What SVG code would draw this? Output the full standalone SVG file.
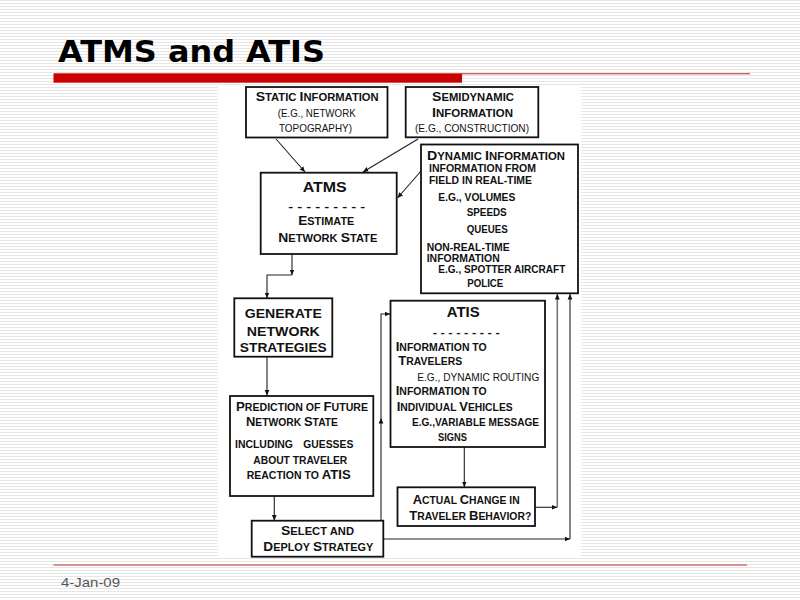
<svg xmlns="http://www.w3.org/2000/svg" width="800" height="600" viewBox="0 0 800 600">
<defs>
<pattern id="stripes" x="0" y="0" width="8" height="3" patternUnits="userSpaceOnUse">
<rect width="8" height="3" fill="#ffffff"/>
<rect width="8" height="1" fill="#e6e6e6"/>
</pattern>
<marker id="arr" markerWidth="6" markerHeight="6" refX="5.5" refY="3" orient="auto" markerUnits="userSpaceOnUse">
<path d="M0,0.6 L5.5,3 L0,5.4 Z" fill="#111"/>
</marker>
</defs>
<style>
.box{fill:#fff;stroke:#111;stroke-width:1.8}
.t{font-family:"Liberation Sans",Arial,sans-serif;font-weight:bold;font-size:10.4px;fill:#111}
.n{font-weight:normal}
.c{font-size:13px}
.h{font-size:15px}
.g{font-size:13.5px}
.ln{fill:none;stroke:#222;stroke-width:1.1}
.gr{fill:none;stroke:#777;stroke-width:1.6}
</style>
<rect width="800" height="600" fill="url(#stripes)"/>
<text x="58" y="61.5" font-family="'DejaVu Sans',Verdana,sans-serif" font-weight="bold" font-size="30" textLength="267" lengthAdjust="spacingAndGlyphs" fill="#000">ATMS and ATIS</text>
<rect x="53.5" y="73.3" width="408.5" height="9.4" fill="#cc0000"/>
<line x1="462" y1="73.8" x2="750" y2="73.8" stroke="#b22" stroke-width="1"/>
<line x1="53.5" y1="565" x2="747" y2="565" stroke="#b33" stroke-width="1.2"/>
<text x="61" y="587.3" font-family="'Liberation Sans',Arial,sans-serif" font-size="13" fill="#555" textLength="59" lengthAdjust="spacingAndGlyphs">4-Jan-09</text>
<rect x="218" y="85.5" width="363" height="472.5" fill="#fff"/>

<g id="connectors">
<path class="ln" d="M276,139 L305,172" marker-end="url(#arr)"/>
<path class="ln" d="M418,139 L363,172" marker-end="url(#arr)"/>
<path class="ln" d="M421,171 L397.5,198" marker-end="url(#arr)"/>
<path class="ln" d="M292,254 V275" marker-end="url(#arr)"/>
<path class="ln" d="M292,275 H267 V298" marker-end="url(#arr)"/>
<path class="ln" d="M267,357 V395.5" marker-end="url(#arr)"/>
<path class="ln" d="M274.3,496 V520.5" marker-end="url(#arr)"/>
<path class="ln" d="M381,520.7 V418" marker-end="url(#arr)"/>
<path class="ln" d="M381,418 V314 H390" marker-end="url(#arr)"/>
<path class="ln" d="M464.3,447 V487" marker-end="url(#arr)"/>
<path class="ln" d="M535,507.3 H557.3" marker-end="url(#arr)"/>
<path class="gr" d="M557.3,507.3 V294" marker-end="url(#arr)"/>
<path class="ln" d="M383.3,539 H570" marker-end="url(#arr)"/>
<path class="ln" d="M570,539 V294" marker-end="url(#arr)"/>
</g>

<g id="static">
<rect class="box" x="246" y="87" width="141.5" height="50.5"/>
<text class="t" x="255.7" y="101" textLength="123" lengthAdjust="spacingAndGlyphs"><tspan class="c">S</tspan>TATIC <tspan class="c">I</tspan>NFORMATION</text>
<text class="t n" x="277.7" y="116.7" textLength="78" lengthAdjust="spacingAndGlyphs">(E.G., NETWORK</text>
<text class="t n" x="279" y="131.7" textLength="73" lengthAdjust="spacingAndGlyphs">TOPOGRAPHY)</text>
</g>

<g id="semidynamic">
<rect class="box" x="405.7" y="87" width="132.6" height="50.3"/>
<text class="t" x="432" y="100.7" textLength="82" lengthAdjust="spacingAndGlyphs"><tspan class="c">S</tspan>EMIDYNAMIC</text>
<text class="t" x="432" y="116.7" textLength="81" lengthAdjust="spacingAndGlyphs"><tspan class="c">I</tspan>NFORMATION</text>
<text class="t n" x="415" y="131.7" textLength="114" lengthAdjust="spacingAndGlyphs">(E.G., CONSTRUCTION)</text>
</g>

<g id="dynamic">
<rect class="box" x="421" y="144.5" width="157" height="148.8"/>
<text class="t" x="427" y="160" textLength="138" lengthAdjust="spacingAndGlyphs"><tspan class="c">D</tspan>YNAMIC <tspan class="c">I</tspan>NFORMATION</text>
<text class="t" x="429" y="172.3" textLength="107" lengthAdjust="spacingAndGlyphs">INFORMATION FROM</text>
<text class="t" x="429" y="184" textLength="103" lengthAdjust="spacingAndGlyphs">FIELD IN REAL-TIME</text>
<text class="t" x="438.3" y="200.7" textLength="77" lengthAdjust="spacingAndGlyphs">E.G., VOLUMES</text>
<text class="t" x="466.7" y="216" textLength="40" lengthAdjust="spacingAndGlyphs">SPEEDS</text>
<text class="t" x="466.7" y="232.7" textLength="41" lengthAdjust="spacingAndGlyphs">QUEUES</text>
<text class="t" x="426.7" y="251" textLength="83" lengthAdjust="spacingAndGlyphs">NON-REAL-TIME</text>
<text class="t" x="426.7" y="262.3" textLength="73" lengthAdjust="spacingAndGlyphs">INFORMATION</text>
<text class="t" x="438.3" y="273.3" textLength="127" lengthAdjust="spacingAndGlyphs">E.G., SPOTTER AIRCRAFT</text>
<text class="t" x="467.3" y="286.7" textLength="36" lengthAdjust="spacingAndGlyphs">POLICE</text>
</g>

<g id="atms">
<rect class="box" x="260.7" y="172.7" width="136" height="81.3"/>
<text class="t h" x="302.7" y="192.3" textLength="44" lengthAdjust="spacingAndGlyphs">ATMS</text>
<text class="t" x="288.3" y="209.5" textLength="77" lengthAdjust="spacingAndGlyphs">- - - - - - - - -</text>
<text class="t" x="298.3" y="225" textLength="56" lengthAdjust="spacingAndGlyphs"><tspan class="c">E</tspan>STIMATE</text>
<text class="t" x="278.3" y="241.7" textLength="99" lengthAdjust="spacingAndGlyphs"><tspan class="c">N</tspan>ETWORK <tspan class="c">S</tspan>TATE</text>
</g>

<g id="generate">
<rect class="box" x="234.3" y="298.3" width="98" height="58.4"/>
<text class="t g" x="244.8" y="318" textLength="77" lengthAdjust="spacingAndGlyphs">GENERATE</text>
<text class="t g" x="246.8" y="335.7" textLength="73" lengthAdjust="spacingAndGlyphs">NETWORK</text>
<text class="t g" x="239.8" y="351.7" textLength="87" lengthAdjust="spacingAndGlyphs">STRATEGIES</text>
</g>

<g id="atis">
<rect class="box" x="390.5" y="300.7" width="154.5" height="146.3"/>
<text class="t h" x="446.7" y="316.7" textLength="33" lengthAdjust="spacingAndGlyphs">ATIS</text>
<text class="t" x="432.7" y="335.5" textLength="67" lengthAdjust="spacingAndGlyphs">- - - - - - - - -</text>
<text class="t" x="395.7" y="350.7" textLength="91" lengthAdjust="spacingAndGlyphs"><tspan class="c">I</tspan>NFORMATION TO</text>
<text class="t" x="398.3" y="364.5" textLength="64" lengthAdjust="spacingAndGlyphs"><tspan class="c">T</tspan>RAVELERS</text>
<text class="t n" x="417.3" y="380.7" textLength="122" lengthAdjust="spacingAndGlyphs">E.G., DYNAMIC ROUTING</text>
<text class="t" x="395.7" y="394.5" textLength="91" lengthAdjust="spacingAndGlyphs"><tspan class="c">I</tspan>NFORMATION TO</text>
<text class="t" x="396.7" y="410.5" textLength="116" lengthAdjust="spacingAndGlyphs"><tspan class="c">I</tspan>NDIVIDUAL <tspan class="c">V</tspan>EHICLES</text>
<text class="t" x="412" y="426" textLength="127" lengthAdjust="spacingAndGlyphs">E.G.,VARIABLE MESSAGE</text>
<text class="t" x="438" y="441" textLength="29" lengthAdjust="spacingAndGlyphs">SIGNS</text>
</g>

<g id="prediction">
<rect class="box" x="230" y="396" width="143.3" height="100"/>
<text class="t" x="236" y="410.7" textLength="132" lengthAdjust="spacingAndGlyphs"><tspan class="c">P</tspan>REDICTION OF <tspan class="c">F</tspan>UTURE</text>
<text class="t" x="246" y="426" textLength="92" lengthAdjust="spacingAndGlyphs"><tspan class="c">N</tspan>ETWORK <tspan class="c">S</tspan>TATE</text>
<text class="t" x="235" y="448.3" textLength="58" lengthAdjust="spacingAndGlyphs">INCLUDING</text>
<text class="t" x="303.3" y="448.3" textLength="50" lengthAdjust="spacingAndGlyphs">GUESSES</text>
<text class="t" x="253.3" y="464" textLength="94" lengthAdjust="spacingAndGlyphs">ABOUT TRAVELER</text>
<text class="t" x="246.7" y="479.3" textLength="104" lengthAdjust="spacingAndGlyphs">REACTION TO <tspan class="c">ATIS</tspan></text>
</g>

<g id="actual">
<rect class="box" x="397.5" y="487.3" width="137.5" height="38.7"/>
<text class="t" x="412.7" y="504.3" textLength="107" lengthAdjust="spacingAndGlyphs"><tspan class="c">A</tspan>CTUAL <tspan class="c">C</tspan>HANGE IN</text>
<text class="t" x="409.3" y="520" textLength="122" lengthAdjust="spacingAndGlyphs"><tspan class="c">T</tspan>RAVELER <tspan class="c">B</tspan>EHAVIOR?</text>
</g>

<g id="select">
<rect class="box" x="251.7" y="520.7" width="131.6" height="36"/>
<text class="t" x="281" y="535" textLength="73" lengthAdjust="spacingAndGlyphs"><tspan class="c">S</tspan>ELECT AND</text>
<text class="t" x="263.3" y="551" textLength="110" lengthAdjust="spacingAndGlyphs"><tspan class="c">D</tspan>EPLOY <tspan class="c">S</tspan>TRATEGY</text>
</g>
</svg>
